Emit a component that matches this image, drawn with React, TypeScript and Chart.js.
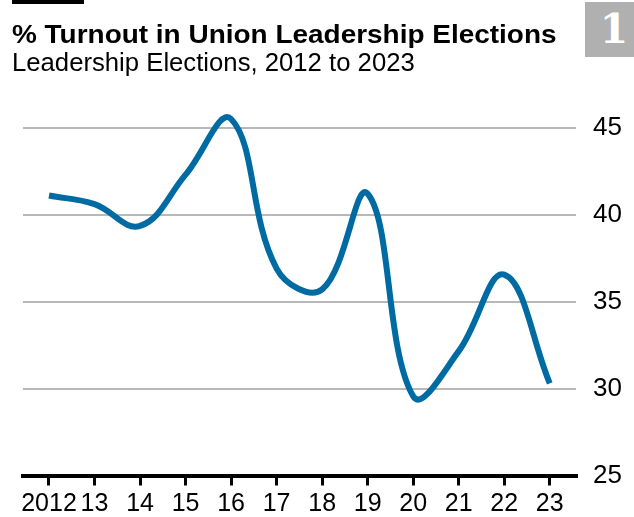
import React, { useEffect, useRef } from "react";
import { Chart, registerables } from "chart.js";

Chart.register(...registerables);

const years = [2012, 2013, 2014, 2015, 2016, 2017, 2018, 2019, 2020, 2021, 2022, 2023];
const xTickLabels = ["2012", "13", "14", "15", "16", "17", "18", "19", "20", "21", "22", "23"];
const turnout = [41.1, 40.6, 39.35, 42.3, 45.5, 36.9, 35.7, 41.2, 29.55, 32.15, 36.55, 30.3];
const yTicks = [25, 30, 35, 40, 45];

const title = "% Turnout in Union Leadership Elections";
const subtitle = "Leadership Elections, 2012 to 2023";
const badge = "1";

const xTickFont = { family: "'Liberation Sans', Arial, sans-serif", size: 25 };
const yTickFont = { family: "'Liberation Sans', Arial, sans-serif", size: 26 };

export default function App() {
  const ref = useRef<HTMLCanvasElement | null>(null);

  useEffect(() => {
    if (!ref.current) return;
    const chart = new Chart(ref.current, {
      type: "line",
      data: {
        datasets: [
          {
            data: years.map((y, i) => ({ x: y, y: turnout[i] })),
            borderColor: "#006ba2",
            borderWidth: 6,
            tension: 0.4,
            pointRadius: 0,
            fill: false,
          },
        ],
      },
      options: {
        responsive: false,
        animation: false,
        events: [],
        layout: { padding: { left: 23, top: 101.6, right: 0, bottom: 0 } },
        plugins: { legend: { display: false }, tooltip: { enabled: false }, title: { display: false } },
        scales: {
          x: {
            type: "linear",
            min: 2011.429,
            max: 2023.576,
            afterBuildTicks: (scale: any) => {
              scale.ticks = years.map((v) => ({ value: v }));
            },
            afterFit: (scale: any) => {
              scale.height = 41.5;
            },
            grid: {
              drawOnChartArea: false,
              drawTicks: true,
              tickLength: 10,
              color: "#000",
              lineWidth: 3,
            },
            border: { display: true, color: "#000", width: 4 },
            ticks: {
              autoSkip: false,
              maxRotation: 0,
              color: "#000",
              font: xTickFont,
              padding: 4,
              callback: (_v: any, i: number) => xTickLabels[i],
            },
          },
          y: {
            position: "right",
            min: 25,
            max: 46.5,
            afterBuildTicks: (scale: any) => {
              scale.ticks = yTicks.map((v) => ({ value: v }));
            },
            afterFit: (scale: any) => {
              scale.width = 58;
            },
            grid: {
              drawTicks: false,
              color: (ctx: any) => (ctx.tick && ctx.tick.value === 25 ? "rgba(0,0,0,0)" : "#b8b8b8"),
              lineWidth: 2,
            },
            border: { display: false },
            ticks: {
              color: "#000",
              font: yTickFont,
              padding: 17,
              callback: (v: any) => String(v),
            },
          },
        },
      },
    });
    return () => chart.destroy();
  }, []);

  return (
    <div style={{ position: "fixed", left: 0, top: 0, width: 634, height: 517, background: "#fff", overflow: "hidden" }}>
      <canvas ref={ref} width={634} height={517} style={{ position: "absolute", left: 0, top: 0 }} />
      <div style={{ position: "absolute", left: 12, top: 0, width: 72, height: 4, background: "#000" }} />
      <div
        style={{
          position: "absolute",
          left: 12,
          top: 21,
          fontFamily: "'Liberation Sans', Arial, sans-serif",
          fontWeight: 700,
          fontSize: 26,
          lineHeight: "26px",
          transform: "scaleX(1.075)",
          transformOrigin: "0 0",
          color: "#000",
          whiteSpace: "nowrap",
        }}
      >
        {title}
      </div>
      <div
        style={{
          position: "absolute",
          left: 12,
          top: 50.2,
          fontFamily: "'Liberation Sans', Arial, sans-serif",
          fontSize: 25.7,
          lineHeight: "25.7px",
          color: "#000",
          whiteSpace: "nowrap",
        }}
      >
        {subtitle}
      </div>
      <div
        style={{
          position: "absolute",
          left: 585,
          top: 2,
          width: 58,
          height: 55,
          background: "#b0b0b0",
          color: "#fff",
          fontFamily: "'DejaVu Serif', 'Liberation Serif', serif",
          fontWeight: 700,
          fontSize: 41,
          lineHeight: "55px",
          textAlign: "center",
        }}
      >
        {badge}
      </div>
    </div>
  );
}
